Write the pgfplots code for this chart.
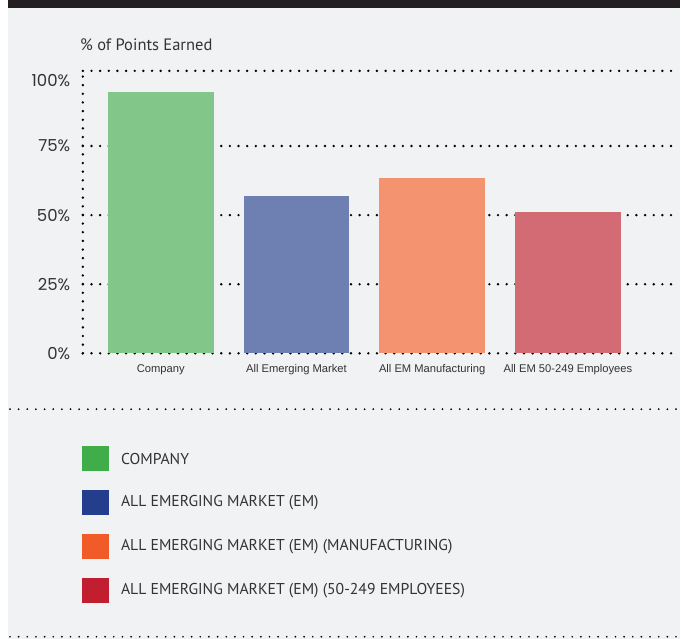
\documentclass[border=0pt]{standalone}
\usepackage{pgfplots}
\pgfplotsset{compat=1.18}
\usepackage{fontspec}
\setmainfont{PT Sans}
\newfontfamily\arialfont{Liberation Sans}
\newfontfamily\tickfont{Poppins}

\definecolor{bg}{HTML}{F1F2F4}
\definecolor{topbar}{HTML}{231F20}
\definecolor{txt}{HTML}{333333}
\definecolor{barA}{HTML}{82C689}
\definecolor{barB}{HTML}{6E80B2}
\definecolor{barC}{HTML}{F39370}
\definecolor{barD}{HTML}{D26B73}
\definecolor{legA}{HTML}{3FAE4A}
\definecolor{legB}{HTML}{233E8C}
\definecolor{legC}{HTML}{F15A29}
\definecolor{legD}{HTML}{C11F2F}

\tikzset{dots/.style={line width=2pt, line cap=round, dash pattern=on 0pt off 6.5pt, draw=black}}

\begin{document}
\begin{tikzpicture}
% page in pixel units, origin top left
\begin{scope}[x=0.75pt, y=-0.75pt, yshift=480pt]
  \path[use as bounding box] (0,0) rectangle (681,640);
  \fill[bg] (8,0) rectangle (681,640);
  \fill[topbar] (8,0) rectangle (681,8);
  \node[anchor=west, inner sep=0pt, text=txt, font=\fontsize{12.4pt}{14pt}\selectfont] at (80,45) {\% of Points Earned};
  \draw[dots, line width=1.5pt] (10,410) -- (681,410);
  \draw[dots, line width=1.4pt] (10,638) -- (681,638);
  % legend
  \fill[legA] (82,447) rectangle (109,472);
  \fill[legB] (82,491) rectangle (109,516);
  \fill[legC] (82,535) rectangle (109,560);
  \fill[legD] (82,579) rectangle (109,604);
  \begin{scope}[every node/.style={anchor=west, inner sep=0pt, text=txt, font=\fontsize{11.8pt}{14pt}\selectfont}]
    \node at (121,459.5) {COMPANY};
    \node at (121,503.5) {ALL EMERGING MARKET (EM)};
    \node at (121,547.5) {ALL EMERGING MARKET (EM) (MANUFACTURING)};
    \node at (121,591.5) {ALL EMERGING MARKET (EM) (50-249 EMPLOYEES)};
  \end{scope}
\end{scope}

\begin{axis}[
    at={(62.25pt,214.5pt)}, anchor=south west,
    scale only axis,
    width=448.5pt, height=212.25pt,
    xmin=-0.574, xmax=3.824,
    ymin=0, ymax=102.2,
    axis line style={draw=none},
    major tick length=0pt,
    xtick={0,1,2,3},
    xticklabels={Company, All Emerging Market, All EM Manufacturing, All EM 50-249 Employees},
    xticklabel style={font=\arialfont\fontsize{8.4pt}{10pt}\selectfont, text=txt, yshift=-5pt},
    ytick={0,25,50,75},
    yticklabels={0\%,25\%,50\%,75\%},
    extra y ticks={100},
    extra y tick labels={100\%},
    extra y tick style={grid=none, yticklabel style={yshift=-3pt}},
    yticklabel style={font=\tickfont\fontsize{12.4pt}{14pt}\selectfont, text=txt, xshift=-6pt},
    ymajorgrids,
    grid style={dots},
    ybar, bar shift=0pt, bar width=0.779,
    clip=false,
]
\addplot[fill=barA, draw=none] coordinates {(0,94.6)};
\addplot[fill=barB, draw=none] coordinates {(1,57.0)};
\addplot[fill=barC, draw=none] coordinates {(2,63.5)};
\addplot[fill=barD, draw=none] coordinates {(3,51.0)};
\draw[dots] (rel axis cs:0,0) -- (rel axis cs:0,1);
\draw[dots] (rel axis cs:0,1) -- (rel axis cs:1,1);
\end{axis}
\end{tikzpicture}
\end{document}
